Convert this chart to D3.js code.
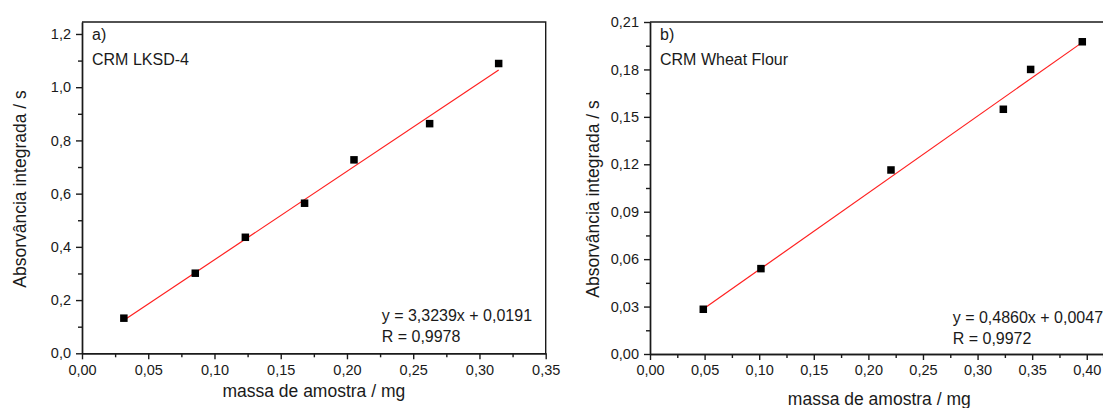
<!DOCTYPE html>
<html>
<head>
<meta charset="utf-8">
<script src="https://cdn.jsdelivr.net/npm/d3@7"></script>
<style>
	body { margin:0; background:#fff; }
	svg { display:block; font-family:"Liberation Sans", Arial, sans-serif; }
	.axis path, .axis line { stroke:#1a1a1a; stroke-width:1.4px; }
	.axis text { fill:#1a1a1a; font-size:14.5px; }
	.minor text { display:none; }
	.frame { fill:none; stroke:#1a1a1a; stroke-width:1.4px; }
	.fit { fill:none; stroke:#ff2020; stroke-width:1.2px; }
	.lbl { fill:#1a1a1a; font-size:16px; }
	.title { fill:#1a1a1a; font-size:17.5px; }
</style>
</head>
<body>
<svg id="chart" width="1103" height="408"></svg>
<script>
// panel a) CRM LKSD-4
var massA = [0.0316, 0.0855, 0.1233, 0.168, 0.2053, 0.2624, 0.3145];
var absA  = [0.132, 0.301, 0.436, 0.564, 0.727, 0.863, 1.089];
var fitA  = {slope:3.3239, intercept:0.0191};
var xTicksA = [0, 0.05, 0.10, 0.15, 0.20, 0.25, 0.30, 0.35];
var yTicksA = [0, 0.2, 0.4, 0.6, 0.8, 1.0, 1.2];

// panel b) CRM Wheat Flour
var massB = [0.0488, 0.1016, 0.2207, 0.3236, 0.3486, 0.3959];
var absB  = [0.0283, 0.054, 0.1164, 0.1548, 0.180, 0.1975];
var fitB  = {slope:0.4860, intercept:0.0047};
var xTicksB = [0, 0.05, 0.10, 0.15, 0.20, 0.25, 0.30, 0.35, 0.40];
var yTicksB = [0, 0.03, 0.06, 0.09, 0.12, 0.15, 0.18, 0.21];

var svg = d3.select("#chart");

// format with comma as decimal separator
function fmt(dec) {
	return function (d) { return d.toFixed(dec).replace(".", ","); };
}

function drawPanel(p) {
	var xScale = d3.scaleLinear().domain(p.xDomain).range([p.left, p.right]);
	var yScale = d3.scaleLinear().domain(p.yDomain).range([p.bottom, p.top]);
	var g = svg.append("g");

	// top + right frame
	g.append("path").attr("class", "frame")
		.attr("d", "M" + p.left + "," + p.top + "H" + p.right + "V" + p.bottom);

	// minor ticks
	g.append("g").attr("class", "axis minor")
		.attr("transform", "translate(0," + p.bottom + ")")
		.call(d3.axisBottom(xScale).tickValues(p.xMinor).tickSize(4).tickSizeOuter(0));
	g.append("g").attr("class", "axis minor")
		.attr("transform", "translate(" + p.left + ",0)")
		.call(d3.axisLeft(yScale).tickValues(p.yMinor).tickSize(4).tickSizeOuter(0));

	// major axes
	g.append("g").attr("class", "axis")
		.attr("transform", "translate(0," + p.bottom + ")")
		.call(d3.axisBottom(xScale).tickValues(p.xTicks).tickFormat(fmt(2)).tickSize(6).tickSizeOuter(0).tickPadding(5));
	g.append("g").attr("class", "axis")
		.attr("transform", "translate(" + p.left + ",0)")
		.call(d3.axisLeft(yScale).tickValues(p.yTicks).tickFormat(fmt(p.yDec)).tickSize(6).tickSizeOuter(0).tickPadding(5));

	// fitted line
	var x0 = d3.min(p.xs), x1 = d3.max(p.xs);
	var lineFunction = d3.line()
		.x(function (d) { return xScale(d); })
		.y(function (d) { return yScale(p.fit.slope * d + p.fit.intercept); });
	g.append("path").attr("class", "fit").attr("d", lineFunction([x0, x1]));

	// points
	var s = 7.5;
	g.append("g").selectAll("rect")
		.data(d3.zip(p.xs, p.ys))
		.enter()
		.append("rect")
		.attr("x", function (d) { return xScale(d[0]) - s / 2; })
		.attr("y", function (d) { return yScale(d[1]) - s / 2; })
		.attr("width", s).attr("height", s)
		.attr("fill", "#000");

	// labels
	g.append("text").attr("class", "lbl").attr("x", p.left + 10).attr("y", p.top + 18).text(p.tag);
	g.append("text").attr("class", "lbl").attr("x", p.left + 10).attr("y", p.top + 43).text(p.name);
	g.append("text").attr("class", "lbl").attr("x", p.eqX).attr("y", p.eqY).text(p.eq);
	g.append("text").attr("class", "lbl").attr("x", p.eqX).attr("y", p.eqY + 21).text(p.r);

	// axis titles
	g.append("text").attr("class", "title")
		.attr("text-anchor", "middle")
		.attr("x", (p.left + p.right) / 2).attr("y", p.xTitleY)
		.text("massa de amostra / mg");
	g.append("text").attr("class", "title")
		.attr("text-anchor", "middle")
		.attr("transform", "translate(" + p.yTitleX + "," + p.yTitleC + ") rotate(-90)")
		.text("Absorvância integrada / s");
}

drawPanel({
	xs:massA, ys:absA, fit:fitA,
	xDomain:[0, 0.35], yDomain:[0, 1.245],
	left:82, right:545.7, top:22, bottom:353.3,
	xTicks:xTicksA, yTicks:yTicksA, yDec:1,
	xMinor:[0.025, 0.075, 0.125, 0.175, 0.225, 0.275, 0.325],
	yMinor:[0.1, 0.3, 0.5, 0.7, 0.9, 1.1],
	tag:"a)", name:"CRM LKSD-4",
	eq:"y = 3,3239x + 0,0191", r:"R = 0,9978", eqX:381.7, eqY:320.5,
	xTitleY:397, yTitleX:26, yTitleC:189
});

drawPanel({
	xs:massB, ys:absB, fit:fitB,
	xDomain:[0, 0.42], yDomain:[0, 0.21],
	left:650, right:1108.6, top:22, bottom:354,
	xTicks:xTicksB, yTicks:yTicksB, yDec:2,
	xMinor:[0.025, 0.075, 0.125, 0.175, 0.225, 0.275, 0.325, 0.375, 0.415],
	yMinor:[0.015, 0.045, 0.075, 0.105, 0.135, 0.165, 0.195],
	tag:"b)", name:"CRM Wheat Flour",
	eq:"y = 0,4860x + 0,0047", r:"R = 0,9972", eqX:952.7, eqY:322.7,
	xTitleY:405, yTitleX:599, yTitleC:199
});
</script>
</body>
</html>
